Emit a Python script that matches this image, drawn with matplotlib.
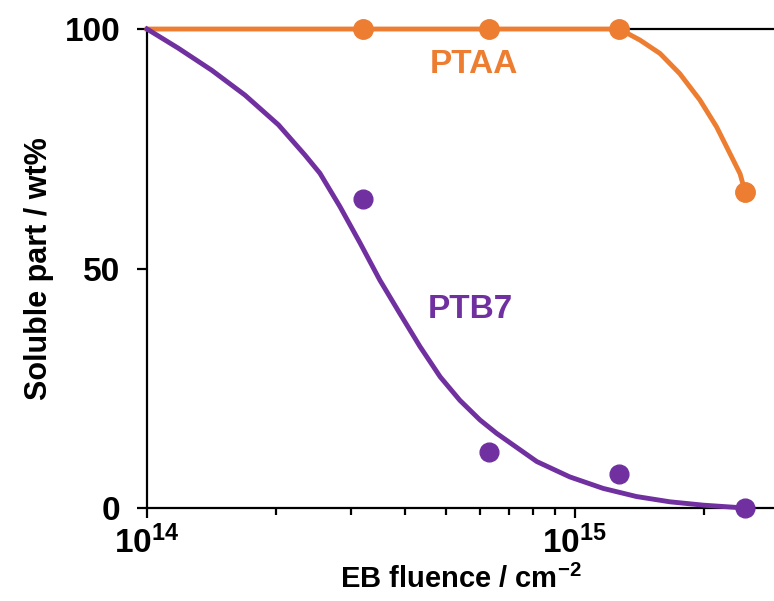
import numpy as np
import matplotlib
matplotlib.use("Agg")
import matplotlib.pyplot as plt

plt.rcParams['font.family'] = ['Liberation Sans', 'DejaVu Sans']
plt.rcParams['font.weight'] = 'bold'
plt.rcParams['mathtext.fontset'] = 'custom'
plt.rcParams['mathtext.rm'] = 'Liberation Sans:bold'
plt.rcParams['mathtext.default'] = 'rm'

# measured points
fluence = [3.2e14, 6.3e14, 1.27e15, 2.5e15]
ptaa = [100, 100, 100, 66]
ptb7 = [64.5, 11.8, 7.1, 0]

# fitted curves
ptaa_fit_x = [1e14, 1.27e15, 1.419e15, 1.581e15, 1.758e15, 1.959e15,
              2.143e15, 2.301e15, 2.432e15, 2.5e15]
ptaa_fit_y = [100, 100, 97.7, 94.9, 90.7, 85.2, 79.6, 74.1, 69.8, 66]
ptb7_fit_x = [1.0e14, 1.183e14, 1.416e14, 1.694e14, 2.028e14, 2.339e14,
              2.535e14, 2.825e14, 3.148e14, 3.499e14, 3.899e14, 4.345e14,
              4.842e14, 5.383e14, 5.998e14, 6.561e14, 8.147e14, 9.727e14,
              1.164e15, 1.393e15, 1.667e15, 1.995e15, 2.5e15]
ptb7_fit_y = [100, 96.0, 91.4, 86.2, 80.0, 73.7,
              69.9, 62.9, 55.3, 47.6, 40.6, 33.7,
              27.4, 22.5, 18.4, 15.6, 9.7, 6.5,
              4.1, 2.4, 1.3, 0.6, 0]

orange = '#ED7D31'
purple = '#7030A0'

fig = plt.figure(figsize=(7.74, 6.01), dpi=100)
ax = fig.add_axes([0.190, 0.1547, 0.81, 0.797])

ax.plot(ptaa_fit_x, ptaa_fit_y, color=orange, lw=3.5, zorder=3, clip_on=False,
        solid_joinstyle='round')
ax.plot(ptb7_fit_x, ptb7_fit_y, color=purple, lw=3.5, zorder=3, clip_on=False,
        solid_joinstyle='round')
ax.plot(fluence, ptaa, 'o', color=orange, ms=14, zorder=4, clip_on=False)
ax.plot(fluence, ptb7, 'o', color=purple, ms=13.5, zorder=4, clip_on=False)

ax.set_xscale('log')
ax.set_xlim(1e14, 2.92e15)
ax.set_ylim(0, 100)
ax.set_xticks([1e14, 1e15])
ax.set_xticklabels([r'$10^{14}$', r'$10^{15}$'])
ax.set_yticks([0, 50, 100])
ax.set_yticklabels(['0', '50', '100'])

ax.spines['right'].set_visible(False)
for s in ['left', 'bottom', 'top']:
    ax.spines[s].set_linewidth(1.6)
ax.tick_params(axis='both', which='major', direction='out', length=7, width=1.6,
               labelsize=24)
ax.tick_params(axis='x', which='minor', direction='out', length=5, width=1.6)
ax.tick_params(axis='y', which='minor', left=False)
ax.tick_params(axis='x', which='major', pad=6)
ax.tick_params(axis='y', which='major', pad=12)

ax.text(5.8e14, 92.5, 'PTAA', color=orange, fontsize=24, fontweight='bold',
        ha='center', va='center')
ax.text(5.7e14, 41.5, 'PTB7', color=purple, fontsize=24, fontweight='bold',
        ha='center', va='center')

ax.set_xlabel('EB fluence / cm$^{-2}$', fontsize=21, fontweight='bold', labelpad=3)
ax.set_ylabel('Soluble part / wt%', fontsize=22, fontweight='bold', labelpad=8)

plt.savefig('out.png', dpi=100)
